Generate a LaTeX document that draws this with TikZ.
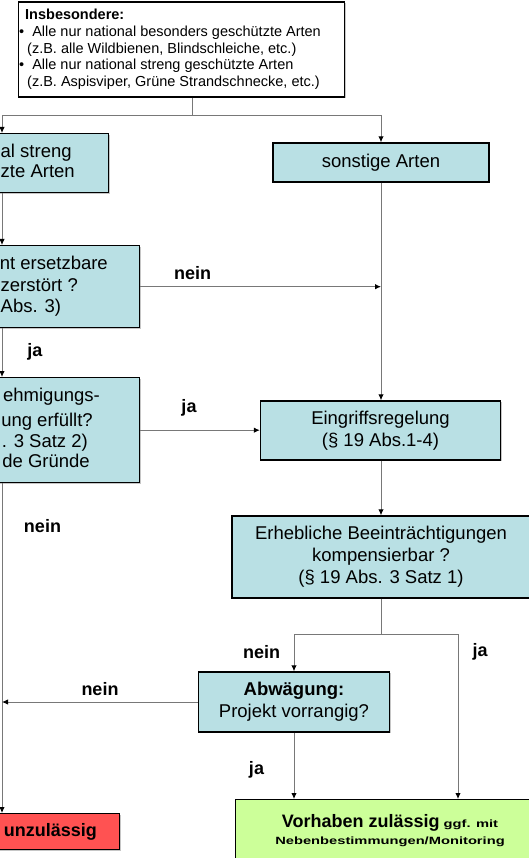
\documentclass[tikz,border=0pt]{standalone}
\usepackage{fontspec}
\setmainfont{Liberation Sans}
\newfontfamily\widefont{Liberation Sans}[FakeStretch=1.4]
\usetikzlibrary{arrows.meta,shadows}
\definecolor{boxblue}{RGB}{185,224,228}
\definecolor{boxred}{RGB}{255,82,82}
\definecolor{boxgreen}{RGB}{204,255,153}
\definecolor{conncol}{RGB}{120,120,120}
\begin{document}
\begin{tikzpicture}[x=1pt,y=-1pt,
  box/.style={draw=black, line width=1.4pt, fill=boxblue, inner sep=0pt,
    drop shadow={shadow xshift=1.2pt, shadow yshift=-1.2pt, opacity=0.45, fill=gray}},
  bigtxt/.style={font=\fontsize{18.5}{22}\selectfont, align=center},
  frag/.style={font=\fontsize{18.5}{22}\selectfont, inner sep=0pt, anchor=east, text height=13.3pt, text depth=3.9pt},
  fragw/.style={frag, anchor=west},
  lbl/.style={font=\fontsize{18}{20}\selectfont\bfseries, inner sep=0pt},
  conn/.style={draw=conncol, line width=1pt},
  arr/.style={conn, -{Latex[length=6pt,width=5.5pt,color=black]}},
]
\useasboundingbox (0,0) rectangle (529,858);
\clip (0,0) rectangle (529,858);

% top box
\node[box, fill=white, anchor=north west, minimum width=326pt, minimum height=95pt] (top) at (18,1.5) {};
\node[anchor=north west, inner sep=0pt, font=\fontsize{14.5}{16.7}\selectfont, align=left] (toptxt) at (19,9)
  {\hspace*{6pt}\textbf{Insbesondere:}\\
   •\hspace{8pt}Alle nur national besonders geschützte Arten\\
   \hspace*{8pt}(z.B. alle Wildbienen, Blindschleiche, etc.)\\
   •\hspace{8pt}Alle nur national streng geschützte Arten\\
   \hspace*{8pt}(z.B. Aspisviper, Grüne Strandschnecke, etc.)};

% left column boxes (cut at the left edge)
\node[box, anchor=north east, minimum width=180pt, minimum height=59pt] (b1) at (109,133) {};
\node[fragw] (b1a) at (0.5,153) {al streng};
\node[fragw] (b1b) at (0.5,173) {zte Arten};

\node[box, anchor=north east, minimum width=180pt, minimum height=82pt] (b2) at (140,245) {};
\node[frag] (b2a) at (108,265) {nt ersetzbare};
\node[fragw] (b2b) at (0.5,287) {zerstört ?};
\node[fragw] (b2c) at (0.5,308) {Abs. 3)};

\node[box, anchor=north east, minimum width=180pt, minimum height=105pt] (b3) at (140,377) {};
\node[frag] (b3a) at (100,397) {ehmigungs-};
\node[frag] (b3b) at (93,422) {ung erfüllt?};
\node[frag] (b3c) at (88,443) {. 3 Satz 2)};
\node[frag] (b3d) at (90,463) {de Gründe};

\node[box, fill=boxred, anchor=north east, minimum width=180pt, minimum height=36pt] (unz) at (120,813) {};
\node[frag, font=\fontsize{18}{22}\selectfont\bfseries] (unzt) at (97,832) {unzulässig};

% right column boxes
\node[box, bigtxt, minimum width=216pt, minimum height=39pt] (sonst) at (381,162.5) {sonstige Arten};
\node[box, bigtxt, minimum width=240pt, minimum height=59pt] (eing) at (380.5,430.5) {Eingriffsregelung\\(§ 19 Abs.1-4)};
\node[box, bigtxt, minimum width=298pt, minimum height=82pt] (erh) at (381,557) {Erhebliche Beeinträchtigungen\\kompensierbar ?\\(§ 19 Abs. 3 Satz 1)};
\node[box, bigtxt, minimum width=191pt, minimum height=60pt] (abw) at (294,702) {\textbf{Abwägung:}\\Projekt vorrangig?};
\node[box, fill=boxgreen, anchor=north west, minimum width=320pt, minimum height=80pt] (vorh) at (235,799) {};
\node[inner sep=0pt, align=center, font=\widefont\fontsize{10.5}{17}\selectfont\bfseries] (vorht) at (390,831)
  {{\normalfont\fontsize{18}{17}\selectfont\bfseries Vorhaben zulässig} ggf. mit\\
   Nebenbestimmungen/Monitoring};

% helper coordinates
\coordinate (L) at (2,0);
\coordinate (J) at (192,116);
\coordinate (S) at (381,634);
\coordinate (R) at (458,634);

% connectors
\draw[conn] (top.south -| J) -- (J);
\draw[arr] (J) -| (L |- b1.north);
\draw[arr] (J) -| (sonst.north);
\draw[arr] (L |- b1.south) -- (L |- b2.north);
\draw[arr] (L |- b2.south) -- (L |- b3.north);
\draw[arr] (L |- b3.south) -- (L |- unz.north);
\draw[arr] (b2.east) -- (b2.east -| sonst.south);
\draw[arr] (sonst.south) -- (sonst.south |- eing.north);
\draw[arr] (b3.east) -- (b3.east -| eing.west);
\draw[arr] (eing.south -| erh.north) -- (erh.north);
\draw[conn] (erh.south) -- (S);
\draw[arr] (S) -| (abw.north);
\draw[arr] (S) -- (R) -- (R |- vorh.north);
\draw[arr] (abw.west) -- (abw.west -| L);
\draw[arr] (abw.south) -- (abw.south |- vorh.north);

% labels
\node[lbl] (l1) at (192.5,273) {nein};
\node[lbl] (l2) at (35,352) {ja};
\node[lbl] (l3) at (189,408) {ja};
\node[lbl] (l4) at (42.5,526) {nein};
\node[lbl] (l5) at (261.5,652) {nein};
\node[lbl] (l6) at (480,652) {ja};
\node[lbl] (l7) at (100,689) {nein};
\node[lbl] (l8) at (256.5,770) {ja};
\end{tikzpicture}
\end{document}
